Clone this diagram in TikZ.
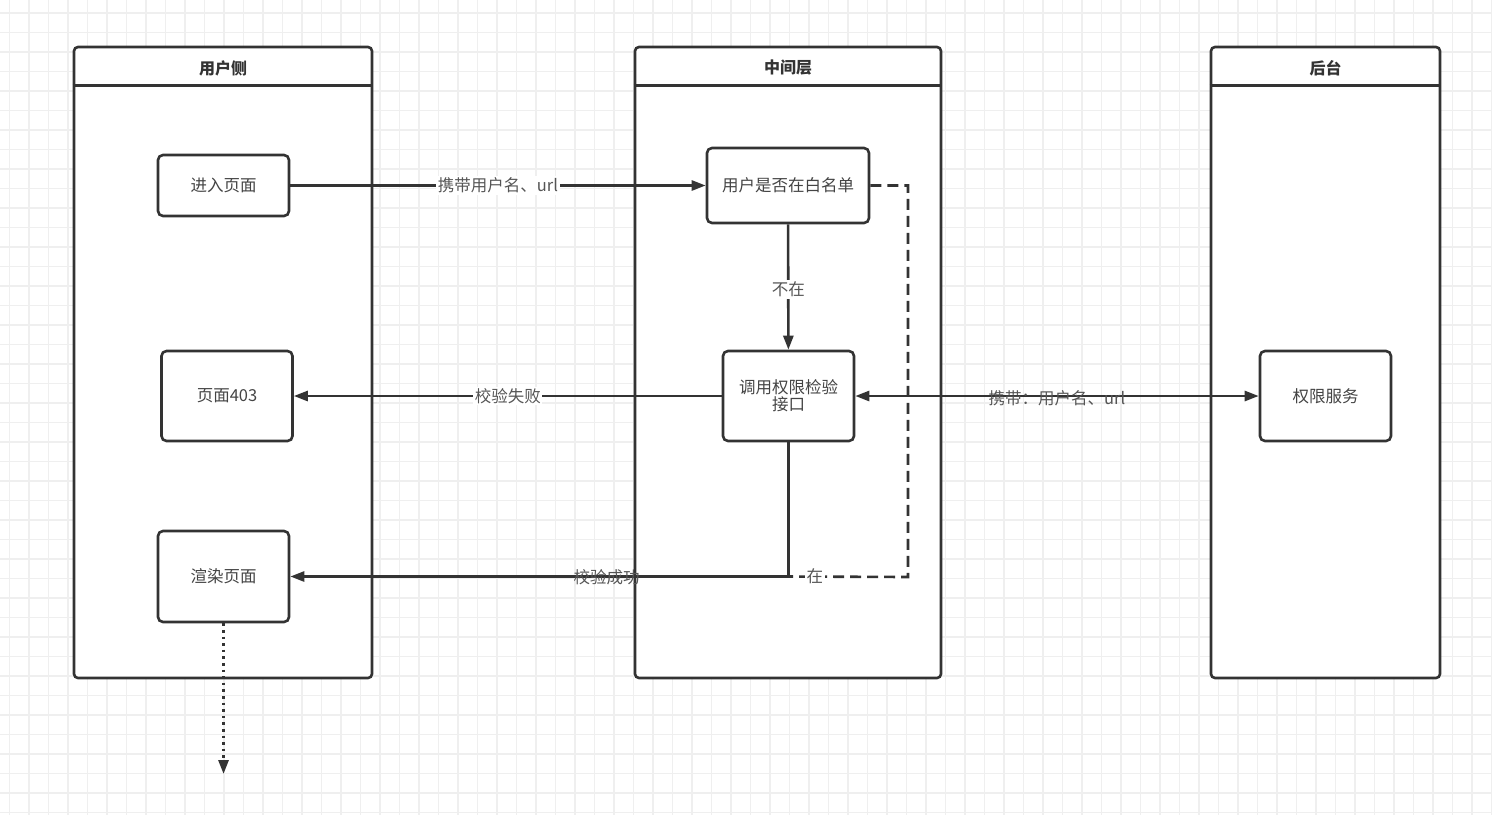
\documentclass[tikz,border=0pt]{standalone}
\usepackage{fontspec}
\setmainfont{Noto Sans CJK SC}
\usetikzlibrary{arrows.meta}
\definecolor{ln}{HTML}{333333}
\definecolor{txt}{HTML}{444444}
\definecolor{lbl}{HTML}{555555}
\definecolor{gridc}{HTML}{EFEFEF}
\tikzset{
  lane/.style={draw=ln, line width=2.6, rounded corners=4, fill=white, minimum height=631},
  hdr/.style={font=\fontsize{16}{19}\selectfont\bfseries, text=ln},
  box/.style={draw=ln, line width=2.6, rounded corners=5, fill=white, text=txt,
    font=\fontsize{16.5}{20}\selectfont, align=center, minimum width=131, minimum height=90},
  conn/.style={draw=ln, line width=2.6, -{Triangle[length=14pt,width=10pt]}},
  plain/.style={draw=ln, line width=2.6},
  dashline/.style={draw=ln, line width=2.6, dash pattern=on 11pt off 6pt},
  dotline/.style={draw=ln, line width=2.8, dash pattern=on 2.6pt off 4pt, -{Triangle[length=14pt,width=10pt]}},
  elabel/.style={font=\fontsize{16.5}{19}\selectfont, text=lbl, fill=white, inner sep=1.5pt},
  elabelclear/.style={font=\fontsize{16.5}{19}\selectfont, text=lbl, inner sep=1pt},
}
\begin{document}
\begin{tikzpicture}[x=1pt,y=-1pt]
\useasboundingbox (0,0) rectangle (1492,815);
\fill[white] (0,0) rectangle (1492,815);
% grid
\foreach \i in {0,...,76} {
  \draw[gridc, line width=1.2] ({9.5+19.5*\i},0) -- ({9.5+19.5*\i},815);
}
\foreach \j in {0,...,41} {
  \draw[gridc, line width=1.2] (0,{13+19.5*\j}) -- (1492,{13+19.5*\j});
}
% lanes
\node[lane, minimum width=298] (laneA) at (223,362.5) {};
\node[lane, minimum width=306] (laneB) at (788,362.5) {};
\node[lane, minimum width=229] (laneC) at (1325.5,362.5) {};
\draw[plain] ([yshift=-40pt]laneA.north west) -- ([yshift=-40pt]laneA.north east);
\draw[plain] ([yshift=-40pt]laneB.north west) -- ([yshift=-40pt]laneB.north east);
\draw[plain] ([yshift=-40pt]laneC.north west) -- ([yshift=-40pt]laneC.north east);
\node[hdr] (hA) at (223,68) {用户侧};
\node[hdr] (hB) at (788,68) {中间层};
\node[hdr] (hC) at (1325.5,68) {后台};
% nodes
\node[box, minimum height=61] (enter) at (223.5,185.5) {进入页面};
\node[box, minimum width=162, minimum height=75] (white) at (788,185.5) {用户是否在白名单};
\node[box] (p403) at (227,396) {页面403};
\node[box] (call) at (788.5,396) {调用权限检验\\[-3pt]接口};
\node[box] (auth) at (1325.5,396) {权限服务};
\node[box, minimum height=91] (render) at (223.5,576.5) {渲染页面};
% connectors
\draw[conn] (enter) -- node[elabel, pos=0.5] {携带用户名、url} (white);
\draw[conn] (white) -- node[elabel, pos=0.52] {不在} (call);
\draw[conn] (call) -- node[elabel, pos=0.5] {校验失败} (p403);
\draw[draw=ln, line width=2.6, {Triangle[length=14pt,width=10pt]}-{Triangle[length=14pt,width=10pt]}] (call) -- node[elabelclear, pos=0.5, yshift=-2pt] {携带：用户名、url} (auth);
\coordinate (join) at (call.south |- render.east);
\draw[conn] (call.south) -- (join) -- node[elabelclear, pos=0.365, yshift=-1pt] {校验成功} (render.east);
\coordinate (dtop) at (908,185.5);
\coordinate (dbot) at (908,577);
\draw[dashline] (white.east) -- (dtop) -- (dbot) -- node[elabel, pos=0.78] {在} (join);
\coordinate (dotend) at (223.5,774);
\draw[dotline] (render.south) -- (dotend);
\end{tikzpicture}
\end{document}
